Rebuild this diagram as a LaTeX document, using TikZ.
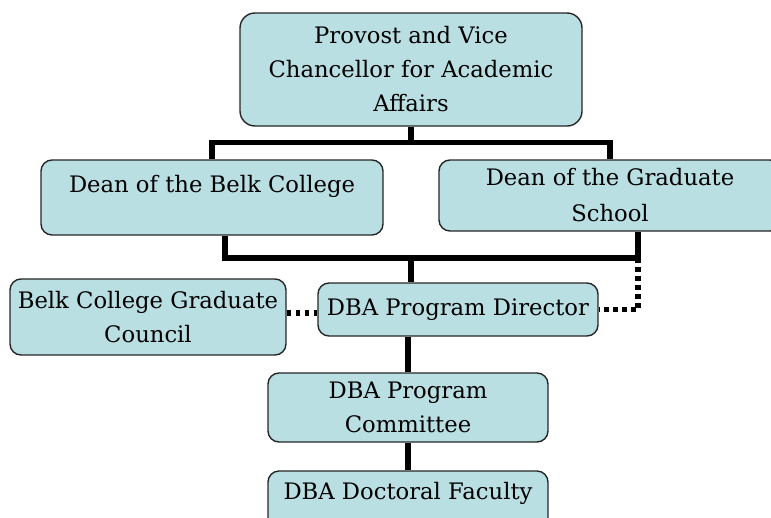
\documentclass[tikz,border=0pt]{standalone}
\usepackage{fontspec}
\setmainfont{DejaVu Serif}
\definecolor{boxfill}{RGB}{185,223,227}
\begin{document}
\begin{tikzpicture}[x=1pt,y=-1pt,
  orgbox/.style={draw=black!85,line width=1.4pt,fill=boxfill,rounded corners=11pt,
    align=center,inner sep=2pt,font=\fontsize{22.7}{34}\selectfont},
  conn/.style={line width=5.5pt},
  dots/.style={line width=5.5pt,dash pattern=on 4.5pt off 4.5pt}]
\useasboundingbox (0,0) rectangle (771,517);
\node[orgbox,rounded corners=15pt,minimum width=342pt,minimum height=113pt] (prov) at (411,69.5)
  {Provost and Vice\\Chancellor for Academic\\Affairs};
\node[orgbox,minimum width=342pt,minimum height=75pt] (belk) at (212,197.5)
  {Dean of the Belk College\\[-16pt]\strut};
\node[orgbox,minimum width=342pt,minimum height=71pt] (grad) at (610,195.5)
  {Dean of the Graduate\\[2pt]School};
\node[orgbox,minimum width=276pt,minimum height=76pt] (council) at (148,317)
  {Belk College Graduate\\Council};
\node[orgbox,minimum width=280pt,minimum height=53pt] (dir) at (458,309.5)
  {DBA Program Director};
\node[orgbox,minimum width=280pt,minimum height=69pt] (comm) at (408,407.5)
  {DBA Program\\Committee};
\node[orgbox,minimum width=280pt,minimum height=70pt] (fac) at (408,506)
  {DBA Doctoral Faculty\\[-14pt]\strut};
\coordinate (bus2) at (411,258);
\coordinate (gj) at (638,258);
% top bus
\draw[conn] (prov.south) -- ++(0,17);
\draw[conn] (belk.north) -- ++(0,-17) -| (grad.north);
% second bus
\draw[conn] ([xshift=13pt]belk.south) |- (gj) -- (gj |- grad.south);
\draw[conn] (bus2) -- (bus2 |- dir.north);
\draw[conn] (comm.north) -- (comm.north |- dir.south);
\draw[conn] (fac.north) -- (comm.south);
% dotted links
\draw[dots] (gj) |- (dir.east);
\draw[dots] ([yshift=4pt]council.east) -- ([yshift=4pt]council.east -| dir.west);
\end{tikzpicture}
\end{document}
